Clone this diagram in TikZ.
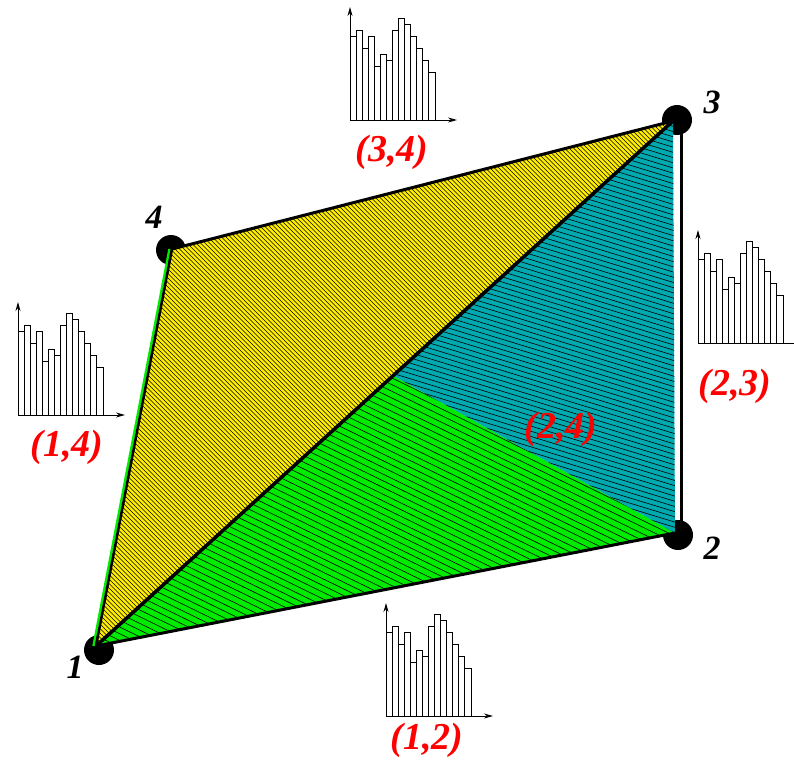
\documentclass[tikz,border=0pt]{standalone}
\usepackage{fontspec}
\setmainfont{Liberation Serif}
\usetikzlibrary{arrows.meta,calc}
\definecolor{yel}{RGB}{255,238,0}
\definecolor{grn}{RGB}{0,235,0}
\definecolor{tea}{RGB}{0,168,175}
\definecolor{lab}{RGB}{255,0,0}
\tikzset{
  dot/.style={circle,fill=black,inner sep=0pt,minimum size=30pt},
  hatch/.style={black,line width=0.6pt},
  thinhatch/.style={black,line width=0.45pt},
  edge/.style={black,line width=3pt,line cap=round},
  bar/.style={draw=black,fill=white,line width=0.9pt},
  axis/.style={black,line width=0.9pt,-{Stealth[length=9pt,width=5pt]}},
  vlab/.style={font=\fontsize{34}{36}\selectfont\bfseries\itshape,text=black,inner sep=0pt},
  elab/.style={font=\fontsize{38}{40}\selectfont\bfseries\itshape,text=lab,inner sep=0pt},
  histo/.pic={
    \foreach \h [count=\i from 0] in {14,15,12,14,9,11,10,15,17,16,14,12,10,8}
      \draw[bar] (\i*6.07,0) rectangle ++(6.07,-\h*6);
    \draw[axis] (0,0) -- (0,-113);
    \draw[axis] (0,0) -- (107,0);
  }
}
\begin{document}
\begin{tikzpicture}[x=1pt,y=-1pt]
\useasboundingbox (0,0) rectangle (794,762);
\coordinate (A) at (96,646);
\coordinate (B) at (675,533);
\coordinate (C) at (673,121);
\coordinate (D) at (172,249);
\coordinate (P) at ($(A)!0.515!(C)$);
\coordinate (Bt) at (681,533);
\coordinate (Ct) at (681,121);
% vertex dots
\node[dot] (d1) at (99,650) {};
\node[dot] (d2) at (678,535) {};
\node[dot] (d3) at (677,120) {};
\node[dot] (d4) at (171,250) {};
% yellow triangle 1-4-3
\fill[yel] (A) -- (D) -- (C) -- cycle;
\begin{scope}
  \clip (A) -- (D) -- (C) -- cycle;
  \foreach \k in {0,...,250}
    \draw[thinhatch] (-560+\k*4.5,0) -- ++(800,800);
\end{scope}
% green triangle 1-2-P
\fill[grn] (A) -- (B) -- (P) -- cycle;
\begin{scope}
  \clip (A) -- (B) -- (P) -- cycle;
  \foreach \k in {0,...,66}
    \draw[hatch] (0,180+\k*6.7) -- ++(800,390.4);
\end{scope}
% teal triangle P-2-3
\fill[tea] (P) -- (B) -- (C) -- cycle;
\begin{scope}
  \clip (P) -- (B) -- (C) -- cycle;
  \foreach \k in {0,...,82}
    \draw[hatch] (0,-90+\k*5.2) -- ++(800,244.8);
\end{scope}
% edges
\draw[edge] (A) -- (B);
\draw[edge] (D) -- (C);
\draw[edge,line width=3.5pt] (A) -- (C);
\draw[grn,line width=2.5pt] ($(A)+(-2.5,0)$) -- ($(D)+(-2.5,0)$);
\draw[black,line width=2.5pt] (A) -- (D);
\draw[black,line width=3pt] (Ct) -- (Bt);
% vertex labels
\node[vlab] (n1) at (75,667) {1};
\node[vlab] (n2) at (712,548) {2};
\node[vlab] (n3) at (712,102) {3};
\node[vlab] (n4) at (154,217) {4};
% histograms
\pic at (350,120) {histo};
\pic at (18,415) {histo};
\pic at (698,343) {histo};
\pic at (386,716) {histo};
% edge labels
\node[elab] (l34) at (392,152) {(3,4)};
\node[elab] (l14) at (67,447) {(1,4)};
\node[elab] (l23) at (735,386) {(2,3)};
\node[elab] (l12) at (427,740) {(1,2)};
\node[elab] (l24) at (561,429) {(2,4)};
\end{tikzpicture}
\end{document}
